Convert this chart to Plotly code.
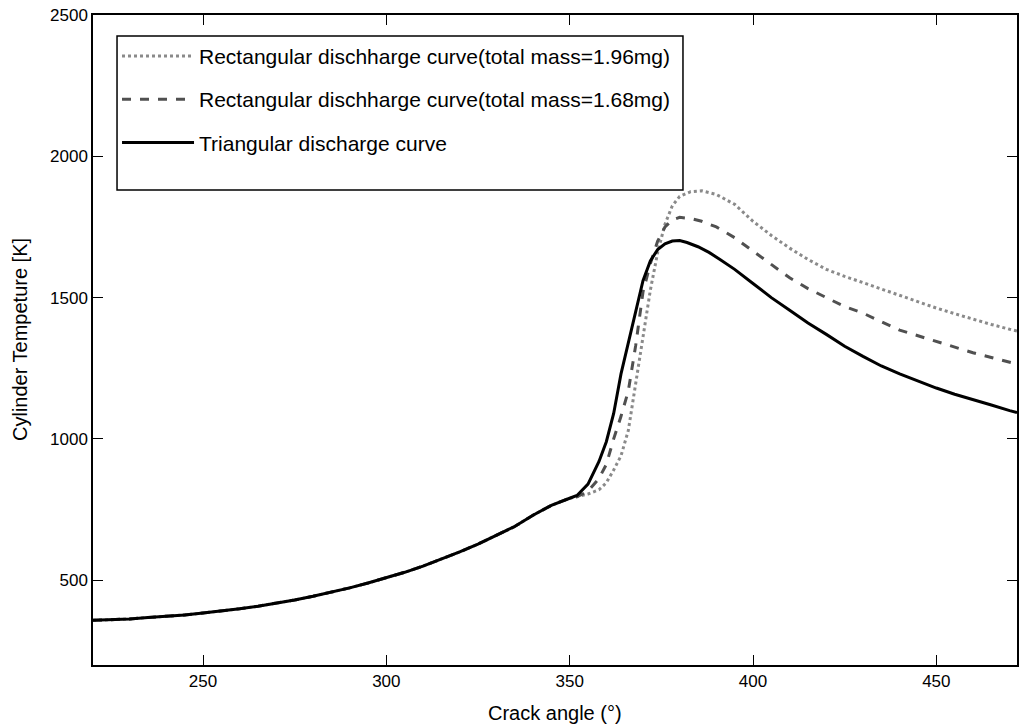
import plotly.graph_objects as go

# Common compression part (all three curves coincide)
x_common = [220, 225, 230, 235, 240, 245, 250, 255, 260, 265, 270, 275, 280, 285, 290,
            295, 300, 305, 310, 315, 320, 325, 330, 335, 340, 345, 350]
t_common = [358, 360, 363, 368, 372, 377, 384, 391, 399, 408, 418, 430, 443, 457, 473,
            490, 508, 528, 550, 574, 600, 628, 658, 690, 730, 765, 790]

# Combustion / expansion part of each curve
x_tri = [352, 355, 358, 360, 362, 364, 366, 368, 370, 372, 374, 376, 378, 380, 382, 385,
         388, 391, 395, 400, 405, 410, 415, 420, 425, 430, 435, 440, 445, 450, 455, 460,
         465, 470, 472]
t_tri = [800, 840, 920, 990, 1090, 1230, 1340, 1460, 1560, 1630, 1670, 1690, 1700, 1702,
         1695, 1680, 1660, 1635, 1600, 1550, 1500, 1455, 1410, 1370, 1328, 1292, 1258,
         1230, 1205, 1180, 1158, 1140, 1120, 1100, 1093]

x_r168 = [352, 355, 358, 360, 362, 364, 366, 368, 370, 372, 374, 376, 378, 380, 383, 386,
          390, 395, 400, 405, 410, 415, 420, 425, 430, 435, 440, 445, 450, 455, 460, 465,
          470, 472]
t_r168 = [795, 815, 860, 910, 1000, 1080, 1170, 1330, 1520, 1620, 1700, 1750, 1775, 1784,
          1780, 1770, 1750, 1712, 1665, 1615, 1570, 1532, 1500, 1468, 1445, 1415, 1385,
          1365, 1345, 1325, 1305, 1288, 1272, 1265]

x_r196 = [352, 355, 358, 360, 362, 364, 366, 368, 370, 372, 374, 376, 378, 380, 383, 386,
          390, 395, 400, 405, 410, 415, 420, 425, 430, 435, 440, 445, 450, 455, 460, 465,
          470, 472]
t_r196 = [795, 805, 820, 845, 890, 940, 1030, 1200, 1360, 1526, 1660, 1760, 1825, 1858,
          1875, 1878, 1865, 1830, 1770, 1720, 1675, 1635, 1600, 1575, 1553, 1530, 1508,
          1485, 1463, 1443, 1423, 1405, 1388, 1382]

x_ticks = [250, 300, 350, 400, 450]
y_ticks = [500, 1000, 1500, 2000, 2500]

x_title = "Crack angle (°)"
y_title = "Cylinder Tempeture [K]"
names = ["Rectangular dischharge curve(total mass=1.96mg)",
         "Rectangular dischharge curve(total mass=1.68mg)",
         "Triangular discharge curve"]

fig = go.Figure()
fig.add_trace(go.Scatter(x=x_common + x_r196, y=t_common + t_r196, mode="lines",
                         name=names[0], legendgroup="a",
                         line=dict(color="#8a8a8a", width=3, dash="dot")))
fig.add_trace(go.Scatter(x=x_common + x_r168, y=t_common + t_r168, mode="lines",
                         name=names[1], legendgroup="b",
                         line=dict(color="#505050", width=3, dash="dash")))
fig.add_trace(go.Scatter(x=x_common + x_tri, y=t_common + t_tri, mode="lines",
                         name=names[2], legendgroup="c",
                         line=dict(color="#000000", width=3)))

axis_common = dict(showgrid=False, zeroline=False, showline=True, linecolor="black",
                   linewidth=1.5, mirror="ticks", ticks="inside", ticklen=10,
                   tickcolor="black", tickwidth=1, automargin=False,
                   tickfont=dict(family="Liberation Sans, Arial", size=17, color="black"))

title_font = dict(family="Liberation Sans, Arial", size=20, color="black")

fig.update_layout(
    width=1034, height=728,
    paper_bgcolor="white", plot_bgcolor="white",
    margin=dict(l=93, r=17, t=15, b=63),
    xaxis=dict(range=[220, 472], tickvals=x_ticks, **axis_common),
    yaxis=dict(range=[200, 2500], tickvals=y_ticks, **axis_common),
    legend=dict(x=0.026, y=0.968, xanchor="left", yanchor="top",
                bgcolor="rgba(0,0,0,0)", borderwidth=0,
                font=dict(family="Liberation Sans, Arial", size=21, color="black"),
                itemwidth=72, tracegroupgap=13),
    shapes=[dict(type="rect", xref="paper", yref="paper",
                 x0=0.026, x1=0.6385, y0=0.7308, y1=0.9677,
                 line=dict(color="black", width=1.5), fillcolor="white", layer="above")],
    annotations=[
        dict(text=x_title, xref="paper", yref="paper", x=0.5, y=0,
             xanchor="center", yanchor="top", yshift=-35, showarrow=False,
             font=title_font),
        dict(text=y_title, xref="paper", yref="paper", x=0, y=0.5,
             xanchor="right", yanchor="middle", xshift=-60, textangle=-90,
             showarrow=False, font=title_font),
    ],
    showlegend=True,
)

fig.write_html("out.html")
